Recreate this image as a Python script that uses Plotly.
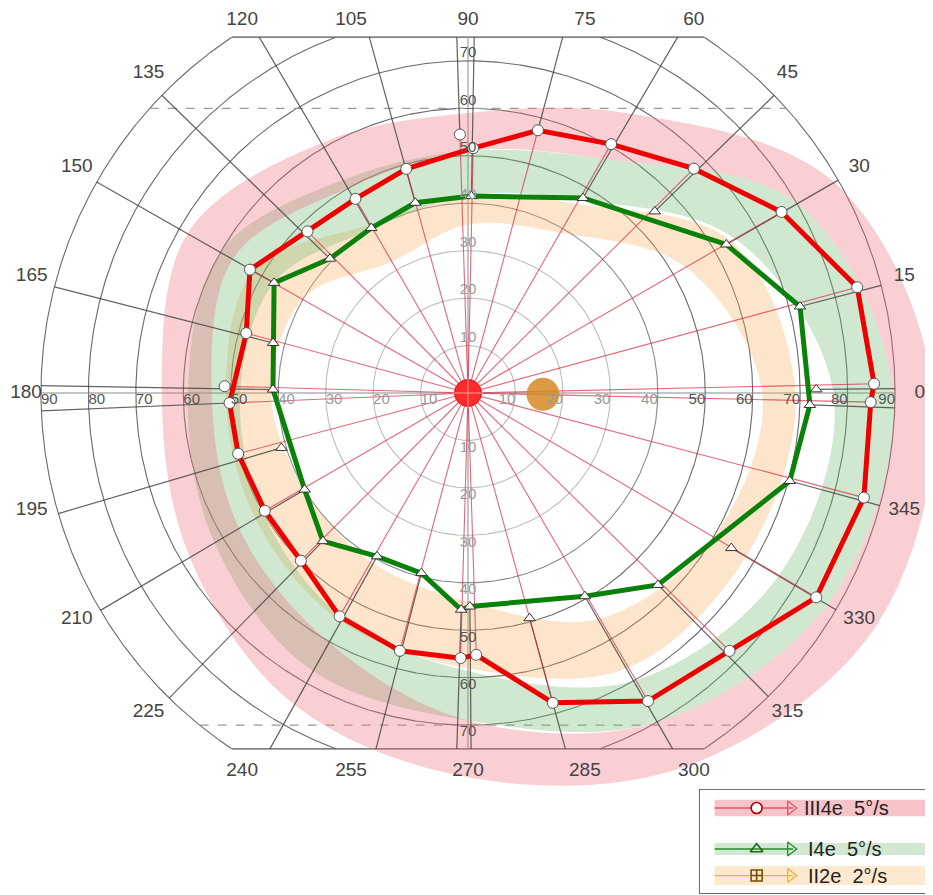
import numpy as np
import plotly.graph_objects as go

# ---- isopter data (meridian angle in degrees, eccentricity in degrees) ----
# III4e  5°/s  (red)
red_ang = [1.3, 15.2, 30.0, 44.8, 60.1, 75.1, 88.8, 105.4, 120.1, 134.8, 150.5, 164.9, 182.4,
           194.8, 210.1, 225.1, 240.1, 255.2, 268.4, 271.8, 285.3, 300.3, 315.4, 329.6, 345.2, 358.7]
red_ecc = [85.6, 85.0, 76.3, 67.1, 60.5, 57.3, 51.6, 49.0, 47.3, 48.0, 52.8, 48.4, 50.3,
           50.1, 49.5, 49.9, 54.3, 56.2, 55.9, 55.2, 67.7, 75.2, 77.4, 85.1, 86.3, 84.9]
red_extra_ang = [91.8, 178.4]
red_extra_ecc = [54.5, 51.3]

# I4e  5°/s  (green)
green_ang = [358.0, 14.6, 29.9, 59.5, 89.0, 105.5, 120.4, 135.8, 150.4, 165.6, 179.0,
             210.6, 225.6, 240.9, 255.5, 268.2, 270.5, 299.9, 314.7, 344.7]
green_ecc = [72.1, 72.3, 62.8, 47.7, 41.5, 41.6, 40.3, 40.6, 47.0, 42.4, 41.1,
             40.0, 43.7, 39.4, 39.2, 45.7, 45.0, 49.4, 56.9, 70.3]
green_extra_ang = [44.2, 0.6, 329.5, 285.3, 196.4]
green_extra_ecc = [54.9, 73.4, 64.4, 49.2, 41.0]

# normal ranges (shaded bands), inner / outer eccentricity per meridian
band_ang = [0, 30, 60, 90, 120, 150, 180, 210, 240, 270, 300, 330]
orange_in = [62, 53, 39, 35.5, 32, 40, 41.5, 40, 41, 44, 55, 60]
orange_out = [69, 64, 46, 41.5, 41, 52, 51, 52, 55, 58, 67, 68]
green_in = [77, 65, 47, 41.7, 40, 47, 48, 50, 54, 58.6, 70, 76]
green_out = [89.5, 80, 57, 51, 52, 60, 59, 62, 67, 69, 80, 88]
pink_in = [89.5, 80, 57, 51, 50, 57, 54, 56, 60, 69, 80, 88]
pink_out = [98, 89, 68, 59, 61, 68, 64.5, 68, 75, 81, 91, 99]

# blind spot (II2e)
blind_ang = [359.0]
blind_ecc = [15.8]

# grid and labels
ring_ecc = [10, 20, 30, 40, 50, 60, 70, 80, 90]
h_ticks = [10, 20, 30, 40, 50, 60, 70, 80, 90]
v_ticks = [10, 20, 30, 40, 50, 60, 70]
angle_labels = list(range(0, 360, 15))

# ---- layout constants ----
W, H = 933, 895
CX, CY = 460, 385          # pixel position of fixation
PX = 4.745                 # pixels per degree
FIELD = 90                 # outer ring
CLIP = 75                  # top / bottom cut of chart
FONT = "Liberation Sans, Arial, sans-serif"


def xy(ang, ecc):
    a = np.radians(np.asarray(ang, dtype=float))
    r = np.asarray(ecc, dtype=float)
    return r * np.cos(a), r * np.sin(a)


def closed(ang, ecc):
    return list(ang) + [ang[0]], list(ecc) + [ecc[0]]


def edge(ang):
    s = abs(np.sin(np.radians(ang)))
    return FIELD if s < 1e-6 else min(FIELD, CLIP / s)


def ang_gap(a, b):
    d = abs(a - b) % 360
    return min(d, 360 - d)


fig = go.Figure()

# ---- grid rings ----
for r in ring_ecc:
    t = np.arange(0, 360.2, 0.2)
    x, y = xy(t, np.full_like(t, r))
    x = np.where(np.abs(y) > CLIP, np.nan, x)
    y = np.where(np.abs(y) > CLIP, np.nan, y)
    col = "#bdbdbd" if r <= 30 else ("#8a8a8a" if r <= 40 else "#6a6a6a")
    fig.add_trace(go.Scatter(x=x, y=y, mode="lines", line=dict(color=col, width=1.1),
                             hoverinfo="skip", showlegend=False))

# top / bottom cut lines, axes, dashed normal limits
cut = np.sqrt(FIELD ** 2 - CLIP ** 2)
for yy in (CLIP, -CLIP):
    fig.add_trace(go.Scatter(x=[-cut, cut], y=[yy, yy], mode="lines",
                             line=dict(color="#555", width=1.2), hoverinfo="skip", showlegend=False))
for yy in (60, -70):
    hw = np.sqrt(FIELD ** 2 - yy ** 2)
    fig.add_trace(go.Scatter(x=[-hw, hw], y=[yy, yy], mode="lines",
                             line=dict(color="#9a9a9a", width=1.2, dash="dash"),
                             hoverinfo="skip", showlegend=False))
fig.add_trace(go.Scatter(x=[-FIELD, FIELD], y=[0, 0], mode="lines",
                         line=dict(color="#8a8a8a", width=1), hoverinfo="skip", showlegend=False))
fig.add_trace(go.Scatter(x=[0, 0], y=[-CLIP, CLIP], mode="lines",
                         line=dict(color="#8a8a8a", width=1), hoverinfo="skip", showlegend=False))

# ---- shaded normal bands ----
for inner, outer, col in [(orange_in, orange_out, "rgba(245,175,90,0.32)"),
                          (green_in, green_out, "rgba(110,185,110,0.32)"),
                          (pink_in, pink_out, "rgba(238,110,120,0.33)")]:
    a, ri = closed(band_ang, inner)
    xi, yi = xy(a, ri)
    a, ro = closed(band_ang, outer)
    xo, yo = xy(a, ro)
    fig.add_trace(go.Scatter(x=xi, y=yi, mode="lines", line=dict(width=0, shape="spline", smoothing=1.0),
                             hoverinfo="skip", showlegend=False))
    fig.add_trace(go.Scatter(x=xo, y=yo, mode="lines", fill="tonext", fillcolor=col,
                             line=dict(width=0, shape="spline", smoothing=1.0),
                             hoverinfo="skip", showlegend=False))

# ---- stimulus vectors ----
# one grey vector per meridian, from the perimeter edge in to the responding point
vec_ang = green_ang + green_extra_ang
vec_ecc = green_ecc + green_extra_ecc
for a, e in zip(red_ang + red_extra_ang, red_ecc + red_extra_ecc):
    if min(ang_gap(a, g) for g in vec_ang) > 2.0:
        vec_ang = vec_ang + [a]
        vec_ecc = vec_ecc + [e]
vx, vy = [], []
for a, e in zip(vec_ang, vec_ecc):
    x0, y0 = xy([a, a], [e, edge(a)])
    vx += list(x0) + [None]
    vy += list(y0) + [None]
fig.add_trace(go.Scatter(x=vx, y=vy, mode="lines", line=dict(color="rgba(60,60,60,0.8)", width=1.2),
                         hoverinfo="skip", showlegend=False))

rx, ry = [], []
for a, e in zip(red_ang + red_extra_ang, red_ecc + red_extra_ecc):
    x0, y0 = xy([a, a], [0, e])
    rx += list(x0) + [None]
    ry += list(y0) + [None]
fig.add_trace(go.Scatter(x=rx, y=ry, mode="lines", line=dict(color="rgba(215,40,65,0.7)", width=1.1),
                         hoverinfo="skip", showlegend=False))

# ---- isopters ----
a, e = closed(red_ang, red_ecc)
x, y = xy(a, e)
fig.add_trace(go.Scatter(x=x, y=y, mode="lines", line=dict(color="#ee0000", width=5),
                         name="III4e 5°/s", showlegend=False))
a, e = closed(green_ang, green_ecc)
x, y = xy(a, e)
fig.add_trace(go.Scatter(x=x, y=y, mode="lines", line=dict(color="#0a820a", width=5),
                         name="I4e 5°/s", showlegend=False))

x, y = xy(green_ang + green_extra_ang, green_ecc + green_extra_ecc)
fig.add_trace(go.Scatter(x=x, y=y, mode="markers",
                         marker=dict(symbol="triangle-up", size=10, color="white",
                                     line=dict(color="#333", width=1)),
                         showlegend=False))
x, y = xy(red_ang + red_extra_ang, red_ecc + red_extra_ecc)
fig.add_trace(go.Scatter(x=x, y=y, mode="markers",
                         marker=dict(symbol="circle", size=11, color="white",
                                     line=dict(color="#555", width=1)),
                         showlegend=False))

# fixation and blind spot
fig.add_trace(go.Scatter(x=[0], y=[0], mode="markers",
                         marker=dict(symbol="circle", size=27, color="#ff2a2a",
                                     line=dict(color="#e01010", width=1)),
                         hoverinfo="skip", showlegend=False))
fig.add_trace(go.Scatter(x=[0], y=[0], mode="markers",
                         marker=dict(symbol="cross-thin", size=22, line=dict(color="rgba(255,170,170,0.9)", width=1)),
                         hoverinfo="skip", showlegend=False))
x, y = xy(blind_ang, blind_ecc)
fig.add_trace(go.Scatter(x=x, y=y, mode="markers",
                         marker=dict(symbol="circle", size=33, color="rgba(212,138,35,0.85)",
                                     line=dict(width=0)),
                         showlegend=False))

# ---- axis numbers ----
def tick_col(v):
    return "#9a9a9a" if v <= 40 else "#555"

fig.add_trace(go.Scatter(x=h_ticks, y=[0] * len(h_ticks), mode="text", text=[str(v) for v in h_ticks],
                         textposition="bottom left", cliponaxis=False,
                         textfont=dict(family=FONT, size=15, color=[tick_col(v) for v in h_ticks]),
                         hoverinfo="skip", showlegend=False))
fig.add_trace(go.Scatter(x=[-v for v in h_ticks], y=[0] * len(h_ticks), mode="text",
                         text=[str(v) for v in h_ticks], textposition="bottom right", cliponaxis=False,
                         textfont=dict(family=FONT, size=15, color=[tick_col(v) for v in h_ticks]),
                         hoverinfo="skip", showlegend=False))
fig.add_trace(go.Scatter(x=[0] * len(v_ticks), y=v_ticks, mode="text", text=[str(v) for v in v_ticks],
                         textposition="top center", cliponaxis=False,
                         textfont=dict(family=FONT, size=15, color=[tick_col(v) for v in v_ticks]),
                         hoverinfo="skip", showlegend=False))
fig.add_trace(go.Scatter(x=[0] * len(v_ticks), y=[-v for v in v_ticks], mode="text",
                         text=[str(v) for v in v_ticks], textposition="bottom center", cliponaxis=False,
                         textfont=dict(family=FONT, size=15, color=[tick_col(v) for v in v_ticks]),
                         hoverinfo="skip", showlegend=False))

# ---- meridian labels ----
y_top = (CY - 12) / PX
y_bot = -(763 - CY) / PX
x_min = -(CX - 18) / PX     # keep "180" inside the page
lx, ly = xy(angle_labels, [95.2] * len(angle_labels))
ly = np.clip(ly, y_bot, y_top)
lx = np.maximum(lx, x_min)
fig.add_trace(go.Scatter(x=lx, y=ly, mode="text", text=[str(a) for a in angle_labels],
                         textposition="middle center", cliponaxis=False,
                         textfont=dict(family=FONT, size=19, color="#444"),
                         hoverinfo="skip", showlegend=False))

# ---- legend box (own small axes) ----
leg_rows = ["III4e  5°/s", "I4e  5°/s", "II2e  2°/s"]
leg_y = [0.823, 0.426, 0.169]
leg_band = [(0.742, 0.903), (0.368, 0.484), (0.077, 0.261)]
leg_bg = ["rgba(245,185,190,0.85)", "rgba(205,230,205,0.9)", "rgba(252,232,205,0.95)"]
leg_line = ["#e05565", "#2a8a2a", "#f0b040"]
leg_sym = ["circle", "triangle-up-open", "square-cross-open"]
leg_symcol = ["#b00000", "#1a6a1a", "#7a4a00"]

shapes = [dict(type="rect", xref="paper", yref="paper", x0=691.7 / W, x1=925 / W,
               y0=1 - 885 / H, y1=1 - 781.7 / H, line=dict(color="#333", width=1.5),
               fillcolor="white", layer="below")]
for (b0, b1), bg in zip(leg_band, leg_bg):
    shapes.append(dict(type="rect", xref="x2", yref="y2", x0=0.064, x1=0.981, y0=b0, y1=b1,
                       line=dict(width=0), fillcolor=bg, layer="below"))

annotations = []
for i, name in enumerate(leg_rows):
    yy = leg_y[i]
    fig.add_trace(go.Scatter(x=[0.064, 0.40], y=[yy, yy], mode="lines", xaxis="x2", yaxis="y2",
                             line=dict(color=leg_line[i], width=1.3), hoverinfo="skip", showlegend=False))
    fig.add_trace(go.Scatter(x=[0.244], y=[yy], mode="markers", xaxis="x2", yaxis="y2",
                             marker=dict(symbol=leg_sym[i], size=11,
                                         color="white" if i == 0 else leg_symcol[i],
                                         line=dict(color=leg_symcol[i], width=1.6)),
                             hoverinfo="skip", showlegend=False))
    fig.add_trace(go.Scatter(x=[0.39], y=[yy], mode="markers", xaxis="x2", yaxis="y2",
                             marker=dict(symbol="triangle-right-open", size=12, color=leg_line[i],
                                         line=dict(color=leg_line[i], width=1.3)),
                             hoverinfo="skip", showlegend=False))
    annotations.append(dict(x=0.44 if i == 0 else 0.455, y=yy, xref="x2", yref="y2", text=name,
                            showarrow=False, xanchor="left", yanchor="middle",
                            font=dict(family=FONT, size=20, color="#222")))

fig.update_layout(
    width=W, height=H,
    margin=dict(l=0, r=0, t=0, b=0),
    plot_bgcolor="white", paper_bgcolor="white",
    xaxis=dict(range=[-CX / PX, (W - CX) / PX], visible=False, fixedrange=True),
    yaxis=dict(range=[-(H - CY) / PX, CY / PX], visible=False, fixedrange=True),
    xaxis2=dict(domain=[691.7 / W, 925 / W], range=[0, 1], visible=False, anchor="y2"),
    yaxis2=dict(domain=[1 - 885 / H, 1 - 781.7 / H], range=[0, 1], visible=False, anchor="x2"),
    shapes=shapes,
    annotations=annotations,
    showlegend=False,
)

fig.write_html("out.html")
